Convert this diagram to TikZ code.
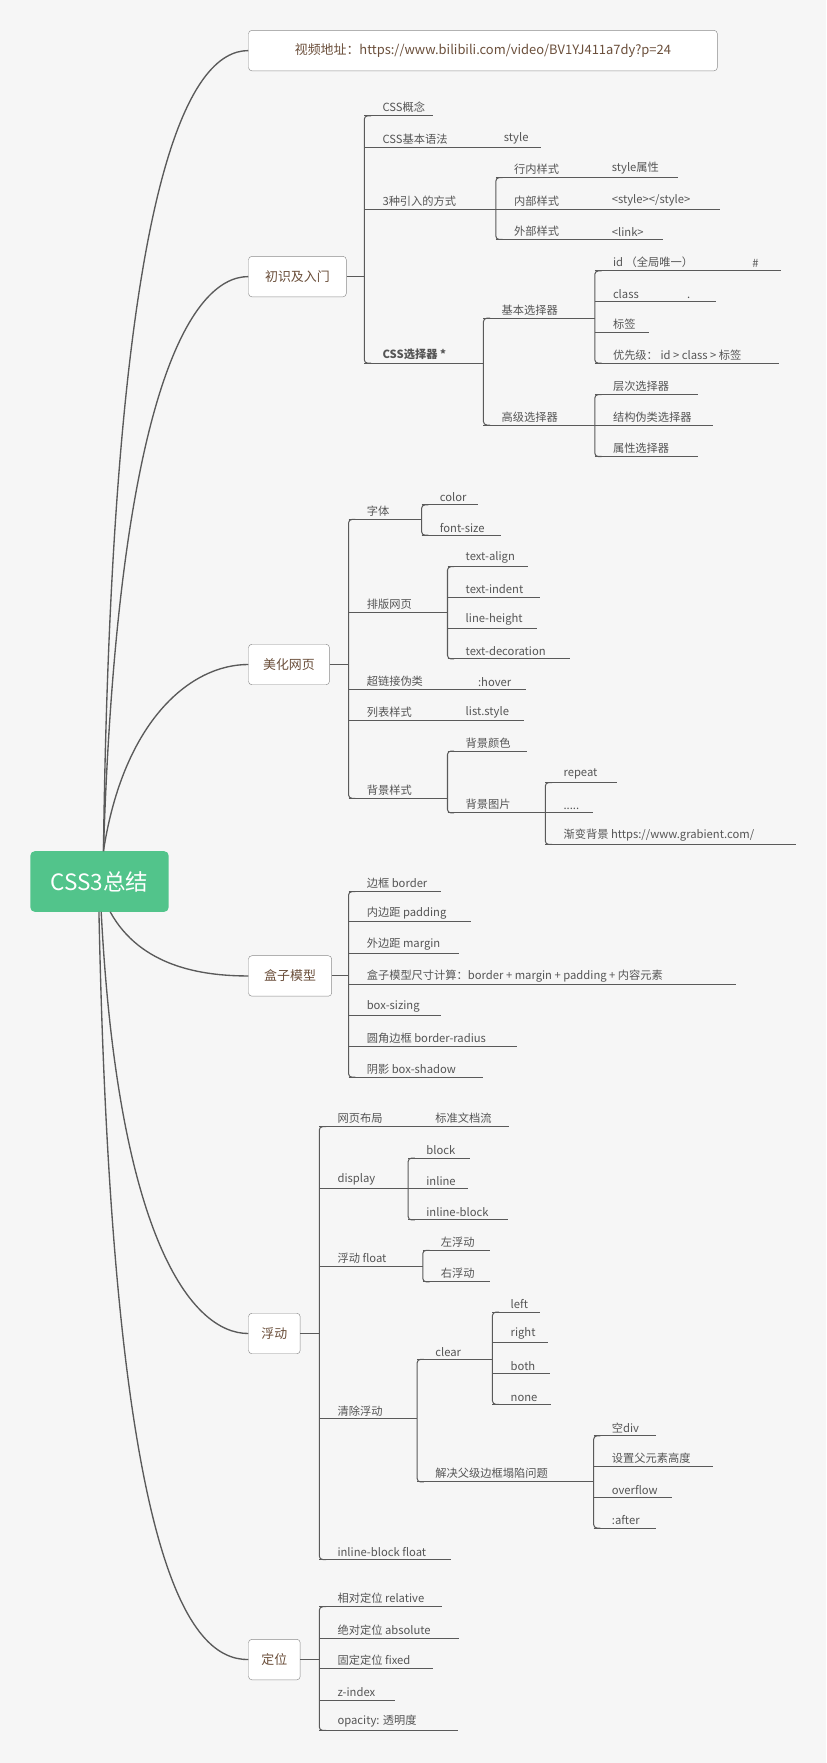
\documentclass[tikz,border=0pt]{standalone}
\usepackage{fontspec}
\setmainfont{Noto Sans CJK SC}
\definecolor{bg}{HTML}{F6F6F6}
\definecolor{ln}{HTML}{5A5A5A}
\definecolor{tx}{HTML}{555555}
\definecolor{br}{HTML}{6B4F3B}
\definecolor{gr}{HTML}{52C48B}
\tikzset{
 ln/.style={draw=ln,line width=0.9pt},
 leaf/.style={anchor=south west,inner xsep=0pt,inner ysep=2.5pt,text=tx,font=\fontsize{10}{12}\selectfont},
 mbox/.style={draw=ln!70,fill=white,rounded corners=3pt,text=br,font=\fontsize{11.5}{13}\selectfont,minimum height=36pt,inner xsep=0pt},
 conn/.style={draw=ln,line width=1.2pt}
}
\newcommand\mleaf[5]{\node[leaf] (#1) at (#2+16,#3) {#5}; \draw[ln] (#2,#3) -- (#4,#3);}
\newcommand\mbr[3]{\draw[ln,rounded corners=3] (#1+6,#2) -- (#1,#2) -- (#1,#3) -- (#1+6,#3);}
\begin{document}
\begin{tikzpicture}[x=1pt,y=-1pt]
\fill[bg] (0,0) rectangle (735,1568);
\useasboundingbox (0,0) rectangle (735,1568);
% root
\node[fill=gr,rounded corners=4pt,minimum width=123pt,minimum height=54pt,text=white,font=\fontsize{20}{24}\selectfont] (root) at (88.5,784) {CSS3总结};
% main boxes
\node[mbox,minimum width=417pt] (url) at (429.5,45) {视频地址：https://www.bilibili.com/video/BV1YJ411a7dy?p=24};
\node[mbox,minimum width=87pt] (b1) at (264.5,246) {初识及入门};
\node[mbox,minimum width=72pt] (b2) at (257,591) {美化网页};
\node[mbox,minimum width=74pt] (b3) at (258,868) {盒子模型};
\node[mbox,minimum width=46pt] (b4) at (244,1186) {浮动};
\node[mbox,minimum width=46pt] (b5) at (244,1476) {定位};
\draw[conn] (92,757) .. controls (100,150) and (170,45) .. (url.west);
\draw[conn] (92,757) .. controls (105,350) and (170,246) .. (b1.west);
\draw[conn] (92,757) .. controls (110,640) and (170,591) .. (b2.west);
\draw[conn] (98,811) .. controls (125,860) and (180,868) .. (b3.west);
\draw[conn] (90,811) .. controls (105,1100) and (170,1186) .. (b4.west);
\draw[conn] (88,811) .. controls (100,1400) and (170,1476) .. (b5.west);
% ---- section 1
\draw[ln] (b1.east) -- (324,246);
\mbr{324}{103}{323}
\mleaf{a1}{324}{103}{385}{CSS概念}
\mleaf{a2}{324}{131}{481}{CSS基本语法}
\node[leaf] (a2v) at (448,131) {style};
\mleaf{a3}{324}{186}{441}{3种引入的方式}
\mbr{441}{158}{213}
\mleaf{a31}{441}{158}{603}{行内样式}\node[leaf] at (544,158) {style属性};
\mleaf{a32}{441}{186}{640}{内部样式}\node[leaf] at (544,186) {<style></style>};
\mleaf{a33}{441}{213}{590}{外部样式}\node[leaf] at (544,213) {<link>};
\mleaf{a4}{324}{323}{430}{\textbf{CSS选择器 *}}
\mbr{430}{283}{378}
\mleaf{a41}{430}{283}{529}{基本选择器}
\mbr{529}{241}{323}
\mleaf{a411}{529}{241}{695}{id （全局唯一）}\node[leaf] at (669,241) {\#};
\mleaf{a412}{529}{268}{637}{class}\node[leaf] at (611,268) {.};
\mleaf{a413}{529}{296}{577}{标签}
\mleaf{a414}{529}{323}{693}{优先级： id > class > 标签}
\mleaf{a42}{430}{378}{529}{高级选择器}
\mbr{529}{351}{406}
\mleaf{a421}{529}{351}{621}{层次选择器}
\mleaf{a422}{529}{378}{634}{结构伪类选择器}
\mleaf{a423}{529}{406}{621}{属性选择器}
% ---- section 2
\draw[ln] (b2.east) -- (310,591);
\mbr{310}{462}{710}
\mleaf{c1}{310}{462}{375}{字体}
\mbr{375}{449}{476}
\mleaf{c11}{375}{449}{425}{color}
\mleaf{c12}{375}{476}{446}{font-size}
\mleaf{c2}{310}{545}{398}{排版网页}
\mbr{398}{504}{586}
\mleaf{c21}{398}{504}{470}{text-align}
\mleaf{c22}{398}{531}{480}{text-indent}
\mleaf{c23}{398}{559}{478}{line-height}
\mleaf{c24}{398}{586}{507}{text-decoration}
\mleaf{c3}{310}{613}{468}{超链接伪类}\node[leaf] at (425,613) {:hover};
\mleaf{c4}{310}{641}{466}{列表样式}\node[leaf] at (414,641) {list.style};
\mleaf{c5}{310}{710}{398}{背景样式}
\mbr{398}{668}{723}
\mleaf{c51}{398}{668}{469}{背景颜色}
\mleaf{c52}{398}{723}{485}{背景图片}
\mbr{485}{696}{751}
\mleaf{c521}{485}{696}{549}{repeat}
\mleaf{c522}{485}{723}{527}{.....}
\mleaf{c523}{485}{751}{708}{渐变背景 https://www.grabient.com/}
% ---- section 3
\draw[ln] (b3.east) -- (310,868);
\mbr{310}{793}{958}
\mleaf{d1}{310}{793}{392}{边框 border}
\mleaf{d2}{310}{820}{419}{内边距 padding}
\mleaf{d3}{310}{848}{408}{外边距 margin}
\mleaf{d4}{310}{876}{655}{盒子模型尺寸计算：border + margin + padding + 内容元素}
\mleaf{d5}{310}{903}{392}{box-sizing}
\mleaf{d6}{310}{931}{460}{圆角边框 border-radius}
\mleaf{d7}{310}{958}{430}{阴影 box-shadow}
% ---- section 4
\draw[ln] (b4.east) -- (284,1186);
\mbr{284}{1002}{1387}
\mleaf{e1}{284}{1002}{453}{网页布局}\node[leaf] at (387,1002) {标准文档流};
\mleaf{e2}{284}{1057}{363}{display}
\mbr{363}{1030}{1085}
\mleaf{e21}{363}{1030}{418}{block}
\mleaf{e22}{363}{1057}{416}{inline}
\mleaf{e23}{363}{1085}{452}{inline-block}
\mleaf{e3}{284}{1126}{376}{浮动 float}
\mbr{376}{1112}{1140}
\mleaf{e31}{376}{1112}{436}{左浮动}
\mleaf{e32}{376}{1140}{436}{右浮动}
\mleaf{e4}{284}{1262}{371}{清除浮动}
\mbr{371}{1209}{1318}
\mleaf{e41}{371}{1209}{438}{clear}
\mbr{438}{1167}{1249}
\mleaf{e411}{438}{1167}{480}{left}
\mleaf{e412}{438}{1194}{487}{right}
\mleaf{e413}{438}{1222}{489}{both}
\mleaf{e414}{438}{1249}{490}{none}
\mleaf{e42}{371}{1318}{528}{解决父级边框塌陷问题}
\mbr{528}{1277}{1359}
\mleaf{e421}{528}{1277}{583}{空div}
\mleaf{e422}{528}{1304}{634}{设置父元素高度}
\mleaf{e423}{528}{1332}{598}{overflow}
\mleaf{e424}{528}{1359}{583}{:after}
\mleaf{e5}{284}{1387}{401}{inline-block float}
% ---- section 5
\draw[ln] (b5.east) -- (284,1476);
\mbr{284}{1429}{1539}
\mleaf{f1}{284}{1429}{393}{相对定位 relative}
\mleaf{f2}{284}{1457}{408}{绝对定位 absolute}
\mleaf{f3}{284}{1484}{385}{固定定位 fixed}
\mleaf{f4}{284}{1512}{351}{z-index}
\mleaf{f5}{284}{1539}{407}{opacity: 透明度}
\end{tikzpicture}
\end{document}
